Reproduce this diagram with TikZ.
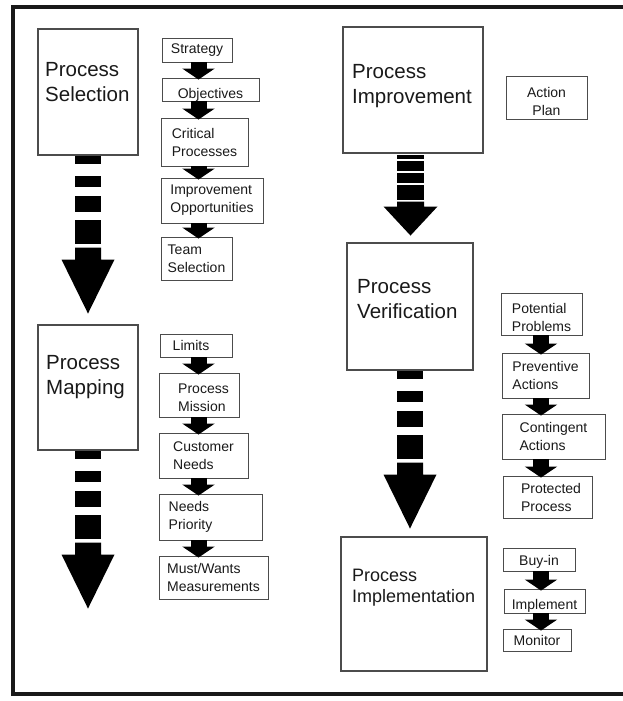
\documentclass[tikz,border=0pt]{standalone}
\usepackage{fontspec}
\setmainfont{Liberation Sans}
\usetikzlibrary{arrows.meta,calc}
\newcommand{\lowertext}[2]{\raisebox{-#1}[\height][\depth]{\begin{tabular}{@{}l@{}}#2\end{tabular}}}
\newcommand{\lowercent}[2]{\raisebox{-#1}[\height][\depth]{\begin{tabular}{@{}c@{}}#2\end{tabular}}}
\begin{document}
\begin{tikzpicture}[x=1pt,y=1pt,
  frame/.style={line width=4pt, draw=black!90},
  bigbox/.style={draw=black!70, line width=1.1pt, inner sep=0pt},
  bigtext/.style={inner sep=0pt, align=left, text=black!90, font=\fontsize{20.5}{25}\selectfont},
  impltext/.style={inner sep=0pt, align=left, text=black!90, font=\fontsize{18}{21}\selectfont},
  sbox/.style={draw=black!70, line width=0.9pt, inner sep=0pt, align=left, text=black!90, font=\fontsize{14}{18}\selectfont},
  sarrow/.style={line width=16pt, draw=black, -{Triangle[width=32pt,length=11pt]}, shorten >=-2pt},
  dasharrow/.pic={
    \fill[black] (-13,0) rectangle (13,-8);
    \fill[black] (-13,-20) rectangle (13,-31);
    \fill[black] (-13,-40) rectangle (13,-56);
    \fill[black] (-13,-64) rectangle (13,-88);
    \fill[black] (-13,-92) -- (13,-92) -- (13,-104) -- (26.5,-104) -- (0,-158) -- (-26.5,-104) -- (-13,-104) -- cycle;
  },
  stripearrow/.pic={
    \fill[black] (-13.5,-1.5) rectangle (13.5,-5);
    \fill[black] (-13.5,-7) rectangle (13.5,-17);
    \fill[black] (-13.5,-19) rectangle (13.5,-29);
    \fill[black] (-13.5,-31) rectangle (13.5,-46);
    \fill[black] (-13.5,-48) -- (13.5,-48) -- (13.5,-53) -- (27,-53) -- (0,-82) -- (-27,-53) -- (-13.5,-53) -- cycle;
  }]
\useasboundingbox (0,0) rectangle (623,-701);
\draw[frame] (12.5,-7) rectangle (627,-694);

% column positions for the small arrows
\coordinate (colL) at (198.5,0);
\coordinate (colR) at (541,0);

% ---------- Process Selection ----------
\node[bigbox, minimum width=100pt, minimum height=126pt] (sel) at (88,-92) {};
\node[bigtext, anchor=west] (selt) at (45,-82.5) {Process\\Selection};

\node[sbox, minimum width=70pt, minimum height=24pt] (s1) at (197,-50) {Strategy};
\node[sbox, minimum width=97pt, minimum height=23pt] (s2) at (210.5,-89.5) {\lowertext{5pt}{Objectives}};
\node[sbox, minimum width=87pt, minimum height=48pt] (s3) at (204.5,-142) {Critical\\Processes};
\node[sbox, minimum width=102pt, minimum height=45pt] (s4) at (212,-200.5) {Improvement\\Opportunities};
\node[sbox, minimum width=71pt, minimum height=43pt] (s5) at (196.5,-258.5) {Team\\Selection};
\draw[sarrow] (s1.south -| colL) -- (s2.north -| colL);
\draw[sarrow] (s2.south -| colL) -- (s3.north -| colL);
\draw[sarrow] (s3.south -| colL) -- (s4.north -| colL);
\draw[sarrow] (s4.south -| colL) -- (s5.north -| colL);

% ---------- Process Mapping ----------
\node[bigbox, minimum width=100pt, minimum height=125pt] (map) at (88,-387.5) {};
\node[bigtext, anchor=west] (mapt) at (46,-377.5) {Process\\Mapping};

\node[sbox, minimum width=72pt, minimum height=23pt] (m1) at (196,-345.5) {Limits\hspace*{10pt}};
\node[sbox, minimum width=80pt, minimum height=44pt] (m2) at (199,-395) {\hspace*{9pt}\lowertext{4pt}{Process\\Mission}};
\node[sbox, minimum width=89pt, minimum height=45pt] (m3) at (203.5,-455.5) {Customer\\Needs};
\node[sbox, minimum width=103pt, minimum height=46pt] (m4) at (210.5,-517) {Needs\\Priority\hspace*{40pt}};
\node[sbox, minimum width=109pt, minimum height=43pt] (m5) at (213.5,-577.5) {Must/Wants\\Measurements};
\draw[sarrow] (m1.south -| colL) -- (m2.north -| colL);
\draw[sarrow] (m2.south -| colL) -- (m3.north -| colL);
\draw[sarrow] (m3.south -| colL) -- (m4.north -| colL);
\draw[sarrow] (m4.south -| colL) -- (m5.north -| colL);

% ---------- Process Improvement ----------
\node[bigbox, minimum width=140pt, minimum height=126pt] (imp) at (413,-90) {};
\node[bigtext, anchor=west] (impt) at (352,-86.5) {Process\\Improvement};
\node[sbox, minimum width=81pt, minimum height=43pt] (a1) at (546.5,-97.5) {\lowercent{5pt}{Action\\Plan}};

% ---------- Process Verification ----------
\node[bigbox, minimum width=126pt, minimum height=127pt] (ver) at (410,-306.5) {};
\node[bigtext, anchor=west] (vert) at (357,-299.5) {Process\\Verification};

\node[sbox, minimum width=81pt, minimum height=42pt] (v1) at (541.5,-314) {\lowertext{4.5pt}{Potential\\Problems}};
\node[sbox, minimum width=87pt, minimum height=45pt] (v2) at (545.5,-375.5) {Preventive\\Actions};
\node[sbox, minimum width=103pt, minimum height=45pt] (v3) at (553.5,-436.5) {Contingent\\Actions};
\node[sbox, minimum width=89pt, minimum height=42pt] (v4) at (547.5,-497) {\hspace*{7pt}Protected\\\hspace*{7pt}Process};
\draw[sarrow] (v1.south -| colR) -- (v2.north -| colR);
\draw[sarrow] (v2.south -| colR) -- (v3.north -| colR);
\draw[sarrow] (v3.south -| colR) -- (v4.north -| colR);

% ---------- Process Implementation ----------
\node[bigbox, minimum width=146pt, minimum height=134pt] (impl) at (414,-604) {};
\node[impltext, anchor=west] (implt) at (352,-587.5) {Process\\Implementation};

\node[sbox, minimum width=72pt, minimum height=23pt] (p1) at (539,-559.5) {\lowertext{2pt}{Buy-in}};
\node[sbox, minimum width=81pt, minimum height=24pt] (p2) at (544.5,-601) {\lowertext{5pt}{Implement}};
\node[sbox, minimum width=68pt, minimum height=22pt] (p3) at (537,-640) {Monitor};
\draw[sarrow] (p1.south -| colR) -- (p2.north -| colR);
\draw[sarrow] (p2.south -| colR) -- (p3.north -| colR);

% ---------- big dashed arrows ----------
\pic at (sel.south) {dasharrow};
\pic at (map.south) {dasharrow};
\pic at (ver.south) {dasharrow};
\pic at ($(imp.south)+(-2.5,0)$) {stripearrow};
\end{tikzpicture}
\end{document}
